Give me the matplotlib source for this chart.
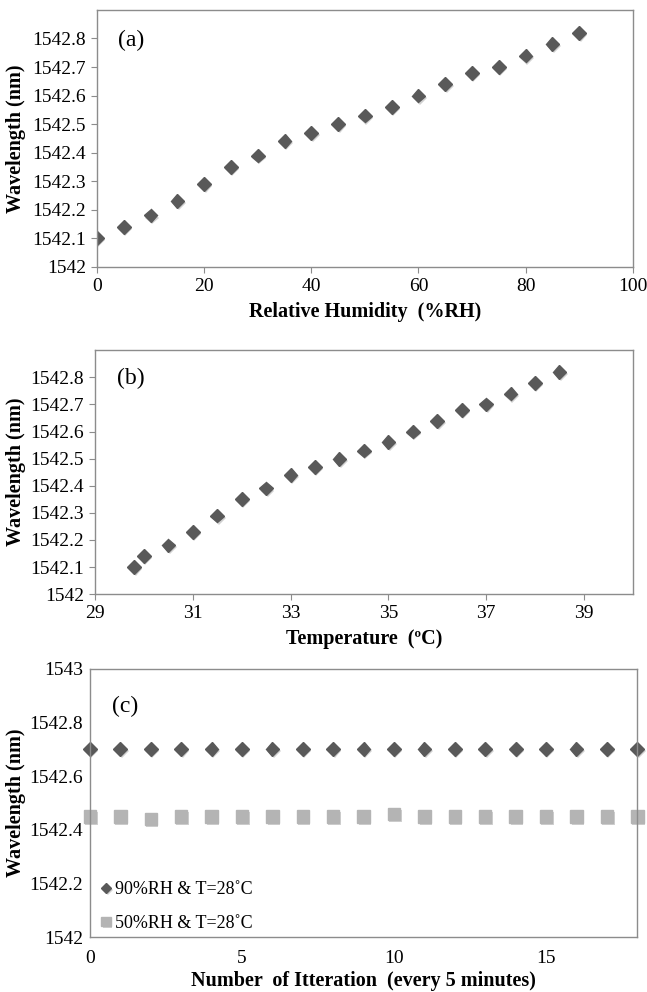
import matplotlib
matplotlib.use("Agg")
import matplotlib.pyplot as plt
import matplotlib.patheffects as pe
from matplotlib.transforms import blended_transform_factory

plt.rcParams['font.family'] = ['Liberation Serif', 'DejaVu Serif']

# (a) humidity sweep
rh = [0, 5, 10, 15, 20, 25, 30, 35, 40, 45, 50, 55, 60, 65, 70, 75, 80, 85, 90]
wl_rh = [1542.10, 1542.14, 1542.18, 1542.23, 1542.29, 1542.35, 1542.39, 1542.44,
         1542.47, 1542.50, 1542.53, 1542.56, 1542.60, 1542.64, 1542.68, 1542.70,
         1542.74, 1542.78, 1542.82]

# (b) temperature sweep
temp = [29.8, 30, 30.5, 31, 31.5, 32, 32.5, 33, 33.5, 34, 34.5, 35, 35.5, 36,
        36.5, 37, 37.5, 38, 38.5]
wl_t = [1542.10, 1542.14, 1542.18, 1542.23, 1542.29, 1542.35, 1542.39, 1542.44,
        1542.47, 1542.50, 1542.53, 1542.56, 1542.60, 1542.64, 1542.68, 1542.70,
        1542.74, 1542.78, 1542.82]

# (c) stability over time
iters = list(range(19))
wl_90 = [1542.70] * 19
wl_50 = [1542.45, 1542.45, 1542.44, 1542.45, 1542.45, 1542.45, 1542.45, 1542.45,
         1542.45, 1542.45, 1542.46, 1542.45, 1542.45, 1542.45, 1542.45, 1542.45,
         1542.45, 1542.45, 1542.45]

dark = '#595959'
light = '#b4b4b4'
spine_col = '#8c8c8c'
shadow = [pe.SimplePatchShadow(offset=(1.0, -1.5), shadow_rgbFace='#9a9a9a', alpha=0.45), pe.Normal()]

fig = plt.figure(figsize=(6.47, 9.92), dpi=100)
ax1 = fig.add_axes([0.150, 0.731, 0.828, 0.259])
ax2 = fig.add_axes([0.147, 0.401, 0.831, 0.246])
ax3 = fig.add_axes([0.139, 0.055, 0.846, 0.271])


def style(ax):
    for s in ax.spines.values():
        s.set_color(spine_col)
        s.set_linewidth(1.0)
    ax.tick_params(labelsize=14, color=spine_col, length=4, pad=4)
    ax.set_ylabel('Wavelength (nm)', fontsize=14.5, fontweight='bold')
    # same left position for all three y labels
    ax.yaxis.set_label_coords(0.040, 0.5,
                              transform=blended_transform_factory(fig.transFigure, ax.transAxes))


ax1.plot(rh, wl_rh, 'D', color=dark, markersize=7, path_effects=shadow)
ax1.set_xlim(0, 100)
ax1.set_ylim(1542, 1542.9)
ax1.set_xticks(range(0, 101, 20))
ax1.set_yticks([1542 + i * 0.1 for i in range(9)])
ax1.set_yticklabels(['1542'] + ['1542.%d' % i for i in range(1, 9)])
ax1.set_xlabel('Relative Humidity  (%RH)', fontsize=14.5, fontweight='bold', labelpad=5)
ax1.text(0.04, 0.86, '(a)', transform=ax1.transAxes, fontsize=17)
style(ax1)

ax2.plot(temp, wl_t, 'D', color=dark, markersize=7, path_effects=shadow)
ax2.set_xlim(29, 40)
ax2.set_ylim(1542, 1542.9)
ax2.set_xticks(range(29, 40, 2))
ax2.set_yticks([1542 + i * 0.1 for i in range(9)])
ax2.set_yticklabels(['1542'] + ['1542.%d' % i for i in range(1, 9)])
ax2.set_xlabel('Temperature  (ºC)', fontsize=14.5, fontweight='bold', labelpad=5)
ax2.text(0.04, 0.86, '(b)', transform=ax2.transAxes, fontsize=17)
style(ax2)

ax3.plot(iters, wl_90, 'D', color=dark, markersize=7, path_effects=shadow,
         label='90%RH & T=28˚C', clip_on=False)
ax3.plot(iters, wl_50, 's', color=light, markersize=9, path_effects=shadow,
         label='50%RH & T=28˚C', clip_on=False)
ax3.set_xlim(0, 18)
ax3.set_ylim(1542, 1543)
ax3.set_xticks([0, 5, 10, 15])
ax3.set_yticks([1542, 1542.2, 1542.4, 1542.6, 1542.8, 1543])
ax3.set_yticklabels(['1542', '1542.2', '1542.4', '1542.6', '1542.8', '1543'])
ax3.set_xlabel('Number  of Itteration  (every 5 minutes)', fontsize=14.5,
               fontweight='bold', labelpad=3)
ax3.text(0.04, 0.84, '(c)', transform=ax3.transAxes, fontsize=17)
style(ax3)
ax3.tick_params(axis='y', length=0, pad=5)
ax3.tick_params(axis='x', length=0, pad=9)
ax3.legend(loc='lower left', frameon=False, fontsize=13, handletextpad=0.0,
           handlelength=1.0, labelspacing=0.9, borderaxespad=0.0,
           markerscale=0.75, bbox_to_anchor=(0.0, -0.005))

fig.savefig('out.png', dpi=100)
